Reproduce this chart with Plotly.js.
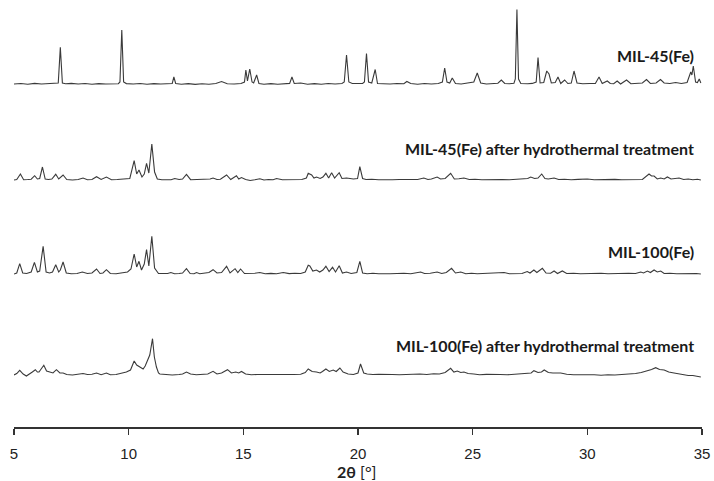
<!DOCTYPE html>
<html>
<head>
<meta charset="utf-8">
<script src="https://cdn.plot.ly/plotly-3.0.1.min.js"></script>
<style>
html,body{margin:0;padding:0;background:#fff;}
#chart{width:714px;height:481px;}
</style>
</head>
<body>
<div id="chart"></div>
<script>
// Sample names (labels drawn at the right of each pattern)
const sampleNames = [
  "MIL-45(Fe)",
  "MIL-45(Fe) after hydrothermal treatment",
  "MIL-100(Fe)",
  "MIL-100(Fe) after hydrothermal treatment"
];

// Vertical stacking offsets (arbitrary intensity units)
const offsets = [343, 247, 153, 52];

// Pattern 1: MIL-45(Fe)
const tt_MIL45 = [5.00,5.3,5.6,5.9,6.2,6.5,6.8,6.93,7.02,7.11,7.25,7.5,7.8,8.1,8.4,8.7,9.0,9.3,9.55,9.62,9.70,9.78,9.9,10.2,10.5,10.8,11.1,11.4,11.7,11.9,11.97,12.05,12.3,12.6,12.9,13.2,13.5,13.8,14.05,14.3,14.6,14.9,15.05,15.11,15.18,15.28,15.38,15.45,15.58,15.68,15.9,16.2,16.5,16.8,17.02,17.12,17.22,17.5,17.8,18.1,18.4,18.7,19.0,19.3,19.40,19.50,19.60,19.75,20.0,20.2,20.28,20.37,20.46,20.6,20.75,20.85,21.1,21.4,21.7,22.0,22.13,22.3,22.6,22.9,23.2,23.5,23.68,23.78,23.88,24.0,24.11,24.25,24.5,24.8,25.05,25.20,25.35,25.6,25.9,26.1,26.25,26.4,26.6,26.8,26.86,26.93,27.00,27.1,27.4,27.6,27.77,27.85,27.94,28.1,28.23,28.33,28.43,28.6,28.72,28.84,29.01,29.15,29.3,29.42,29.55,29.8,30.1,30.35,30.51,30.65,30.87,31.0,31.15,31.30,31.45,31.71,31.9,32.2,32.4,32.58,32.75,33.0,33.19,33.35,33.6,33.85,34.1,34.35,34.51,34.56,34.62,34.72,34.8,34.88,34.95];
const int_MIL45 = [0,0.5,-0.3,0.6,0,0.4,0.2,1,36.6,1,0.3,0.6,0,0.5,-0.2,0.4,0,0.5,0.3,2,54,2,0.4,0,0.5,-0.2,0.4,0,0.3,0.5,7,0.5,-0.3,0.4,-0.4,0.3,-0.2,0.5,2.5,0.2,0,0.5,2,14,3,15,2,1,9,0.5,-0.3,0.4,-0.2,0.3,0.6,7,0.5,1,-0.3,0.4,-0.2,0.5,0,0.5,2,29,2,0.5,0.3,0.5,2,30.5,2,1,14.5,0.5,0.3,0,0.5,0.3,2.5,0.5,-0.2,0.5,0,0.5,2,16,2,1,6,0.5,0,1,2,11,1,0,0.5,0.8,4,0.5,0.2,0.8,5,74.5,5,0.5,0.2,0.6,2,26.5,1,1.5,13,10,1,1.5,7,0.5,4,0.5,1,13,1,0.3,0.5,0.5,7,0.5,3,0.5,0.3,3,0,4,0.3,0.5,1,4.5,0.5,1,4.5,1,0.5,1.5,0.5,1.5,12,9,18,2,1.5,5,1];

// Pattern 2: MIL-45(Fe) after hydrothermal treatment
const tt_MIL45_HT = [5.00,5.12,5.28,5.42,5.6,5.75,5.90,6.02,6.12,6.24,6.36,6.5,6.65,6.82,6.95,7.14,7.3,7.55,7.8,8.01,8.2,8.4,8.60,8.8,9.03,9.25,9.5,9.8,10.05,10.24,10.35,10.45,10.58,10.68,10.78,10.88,11.01,11.13,11.25,11.45,11.7,11.85,12.01,12.2,12.35,12.52,12.7,12.9,13.1,13.35,13.55,13.68,13.85,14.0,14.27,14.45,14.70,14.8,14.92,15.1,15.3,15.5,15.72,15.9,16.1,16.3,16.45,16.7,17.0,17.3,17.55,17.75,17.83,17.98,18.08,18.19,18.35,18.47,18.60,18.72,18.85,18.98,19.18,19.3,19.50,19.8,19.98,20.08,20.2,20.35,20.6,20.9,21.2,21.5,21.8,22.1,22.4,22.6,22.87,23.05,23.2,23.45,23.6,23.8,24.04,24.2,24.4,24.62,24.85,25.1,25.4,25.7,26.0,26.3,26.6,26.9,27.2,27.4,27.53,27.7,27.85,28.01,28.15,28.3,28.55,28.75,29.0,29.3,29.6,30.0,30.3,30.6,30.9,31.2,31.5,31.8,32.1,32.4,32.69,32.8,32.91,33.05,33.2,33.35,33.49,33.65,34.00,34.2,34.4,34.6,34.8,34.95];
const int_MIL45_HT = [0,0.5,6,0.3,0.5,0.8,4.3,1,1.5,13,1,0.5,1,5.7,1,5,0.5,0,0.5,2,0.3,0.5,3.3,0.5,3,0.3,0.5,1,1.5,19.3,6,10,3,6,16.7,7,36,8,1,0.3,0.5,0.2,1.5,0.5,1,5.7,0.3,0.5,0,0.6,1,2,0.5,0.8,5,0.5,4.3,1,2.5,0.5,-0.5,0.3,1.3,0,0.5,0.2,1.5,0.3,0.5,0.3,0.5,2,6.7,5,2,3,1.5,3,6.7,2,7.3,2,7.3,1.5,2,1,1.5,13.3,1.5,0.5,0.8,0.2,0.6,0.3,0.5,0.3,0.8,0.5,2,0.5,1,3,1,1.5,6.7,1,1.3,2,0.5,0.8,0.3,0.6,0.2,0.5,0.3,0.8,0.6,1.5,3,1.5,2,6,1.5,1,2,0.5,0.8,0.3,0.6,1,0.2,0.5,0.3,0.6,0.3,0.5,0.8,0.5,6,4,4,1,2,1,3,1,2,0.5,1,0.3,0.8,0];

// Pattern 3: MIL-100(Fe)
const tt_MIL100 = [5.00,5.12,5.25,5.38,5.55,5.75,5.89,6.02,6.12,6.27,6.40,6.55,6.68,6.82,6.95,7.02,7.14,7.28,7.5,7.75,7.98,8.2,8.4,8.60,8.75,8.88,9.03,9.2,9.45,9.7,9.95,10.10,10.24,10.35,10.45,10.56,10.68,10.78,10.88,11.01,11.13,11.3,11.5,11.7,11.84,12.0,12.2,12.35,12.52,12.68,12.85,12.96,13.1,13.3,13.5,13.68,13.85,14.05,14.27,14.42,14.64,14.76,14.88,15.05,15.3,15.5,15.72,15.95,16.2,16.45,16.74,17.0,17.25,17.5,17.7,17.83,17.90,18.03,18.19,18.33,18.47,18.60,18.74,18.89,19.02,19.18,19.32,19.50,19.7,19.95,20.08,20.2,20.4,20.65,20.9,21.15,21.4,21.7,22.0,22.3,22.5,22.73,22.9,23.15,23.45,23.65,23.85,24.08,24.25,24.48,24.7,24.95,25.2,25.5,25.8,26.1,26.37,26.6,26.9,27.15,27.38,27.5,27.67,27.8,28.04,28.2,28.4,28.55,28.7,28.91,29.1,29.4,29.7,30.0,30.3,30.6,30.9,31.2,31.5,31.8,32.1,32.33,32.45,32.62,32.75,32.91,33.05,33.20,33.35,33.6,33.9,34.2,34.5,34.75,34.95];
const int_MIL100 = [0,1,10.3,1,0.5,2,11.7,2,3,27.7,2,1,2,9.3,2,4,12,1,0.3,0.5,2,0.5,1,5,0.5,1,4.3,0.5,0.3,1,2,5,20,7,12.7,4,10,24.3,8,37.7,6,0.5,0.3,0.5,1.5,0.3,0.5,1,5.3,0.5,0.3,1.5,0.2,0.8,1.5,4.3,1,1.5,7.7,1,5.3,1.5,5,0.5,0.3,0.8,1.5,0.3,0.6,0.3,1.5,0.4,0.8,0.5,2,8.7,8,3,4,2,4,7.7,2.5,6.7,2,8.3,1,2,0.5,1.5,12.7,1,0.3,0.8,0.3,0.6,0.2,0.5,0.8,0.3,1,2,0.5,0.8,2,0.5,1.5,5.7,1,2,0.3,0.8,0.3,0.6,0.2,0.7,1.5,0.3,0.8,0.5,2.5,1,4,1.5,5.7,1,0.8,3,0.5,3,0.5,0.8,0.2,0.6,0.3,0.8,0.2,0.5,0.3,0.7,0.5,2,1,3,1.5,4,2,3,0.5,0.8,0.3,0.6,0.2,0.5,0];

// Pattern 4: MIL-100(Fe) after hydrothermal treatment
const tt_MIL100_HT = [5.00,5.12,5.25,5.40,5.54,5.70,5.80,5.93,6.02,6.09,6.20,6.30,6.42,6.56,6.70,6.85,7.00,7.14,7.3,7.55,7.8,8.01,8.2,8.4,8.60,8.8,9.03,9.2,9.45,9.7,9.90,10.08,10.24,10.35,10.45,10.55,10.63,10.72,10.82,10.92,11.04,11.12,11.21,11.30,11.36,11.6,11.9,12.2,12.35,12.52,12.7,12.95,13.2,13.45,13.68,13.85,14.05,14.31,14.48,14.67,14.80,14.92,15.1,15.35,15.6,16.0,16.3,16.6,16.9,17.2,17.5,17.7,17.83,18.0,18.19,18.35,18.45,18.60,18.75,18.92,19.05,19.21,19.35,19.57,19.8,20.0,20.11,20.25,20.4,20.65,20.9,21.2,21.5,21.8,22.1,22.4,22.7,23.0,23.3,23.55,23.8,24.04,24.18,24.33,24.48,24.62,24.8,25.05,25.3,25.6,25.9,26.2,26.5,26.8,27.1,27.35,27.55,27.67,27.85,28.0,28.12,28.3,28.5,28.84,29.1,29.4,29.7,30.0,30.3,30.6,30.9,31.2,31.5,31.8,32.1,32.35,32.62,32.8,32.98,33.15,33.35,33.55,33.78,34.0,34.2,34.4,34.6,34.8,34.95];
const int_MIL100_HT = [0,1.5,4.7,1,-1,1,3,5.3,3,3,6,9.7,4,3,2,5.3,2,2,0.5,0,0.5,1.5,0.5,0.8,2,0.3,2,0.3,0.5,1.5,3,5,14,10,8.7,7,6,9,15.3,20,36.3,18,8,2,1,0.5,0,0.5,1,3,1,0.3,0.8,1,3.7,1,2,5.3,2,3,2,3.5,1,0.3,0.5,0.5,0,0.3,0.2,0.5,0.8,2.5,6,3.5,3,2,3.5,6,3.5,5,3.5,7,3,1,0.5,2,11,2,1,0.5,0.8,0.3,0.5,0.3,0.6,0.5,1,0.5,1.2,1,2.5,6.7,3,4,2.5,3,1.5,1,0.3,0.6,0.2,0.5,0.2,0.6,0.8,1.5,2,4.3,2.5,3,5,2.5,2,2,0.8,0.3,0.5,0,0.3,-0.3,0.3,0,0.5,0.8,1.5,2.5,4,5.5,7.3,5.5,5,3,2,1,0.5,-0.5,-0.5,-1.5,-2];

// X axis ticks and title
const tickVals = [5, 10, 15, 20, 25, 30, 35];
const xTitle = '<b>2θ</b> [°]';

const xs = [tt_MIL45, tt_MIL45_HT, tt_MIL100, tt_MIL100_HT];
const ys = [int_MIL45, int_MIL45_HT, int_MIL100, int_MIL100_HT];

const traces = xs.map((x, i) => ({
  type: 'scatter',
  mode: 'lines',
  x: x,
  y: ys[i].map(v => v + offsets[i]),
  line: {color: '#3a3a3a', width: 1.1},
  name: sampleNames[i],
  hoverinfo: 'x+name'
}));

const labelY = [372, 279, 176, 82];
const annotations = sampleNames.map((t, i) => ({
  text: '<b>' + t + '</b>',
  xref: 'paper', x: 0.991, xanchor: 'right',
  yref: 'y', y: labelY[i], yanchor: 'middle',
  showarrow: false,
  font: {family: 'Lato, "Open Sans", sans-serif', size: 16, color: '#1a1a1a'}
}));
// axis title placed as an annotation below the tick labels
annotations.push({
  text: xTitle,
  xref: 'paper', x: 0.4985, xanchor: 'center',
  yref: 'paper', y: -0.104, yanchor: 'middle',
  showarrow: false,
  font: {family: 'Lato, "Open Sans", sans-serif', size: 16, color: '#222'}
});

const layout = {
  width: 714, height: 481,
  margin: {l: 14, r: 12, t: 0, b: 54},
  paper_bgcolor: '#ffffff',
  plot_bgcolor: '#ffffff',
  showlegend: false,
  xaxis: {
    range: [5, 35],
    tickvals: tickVals,
    ticktext: tickVals.map(String),
    showgrid: false,
    zeroline: false,
    showline: true,
    linecolor: '#333',
    linewidth: 1.5,
    ticks: 'outside',
    ticklen: 6,
    tickwidth: 1.5,
    tickcolor: '#333',
    ticklabelstandoff: 6,
    tickfont: {family: '"Liberation Sans Narrow", "Liberation Sans", Arial, sans-serif', size: 15, color: '#222'},
    automargin: false
  },
  yaxis: {
    range: [0, 427],
    visible: false,
    showgrid: false,
    zeroline: false,
    fixedrange: true
  },
  annotations: annotations
};

Plotly.newPlot('chart', traces, layout, {displayModeBar: false, staticPlot: true});
</script>
</body>
</html>
